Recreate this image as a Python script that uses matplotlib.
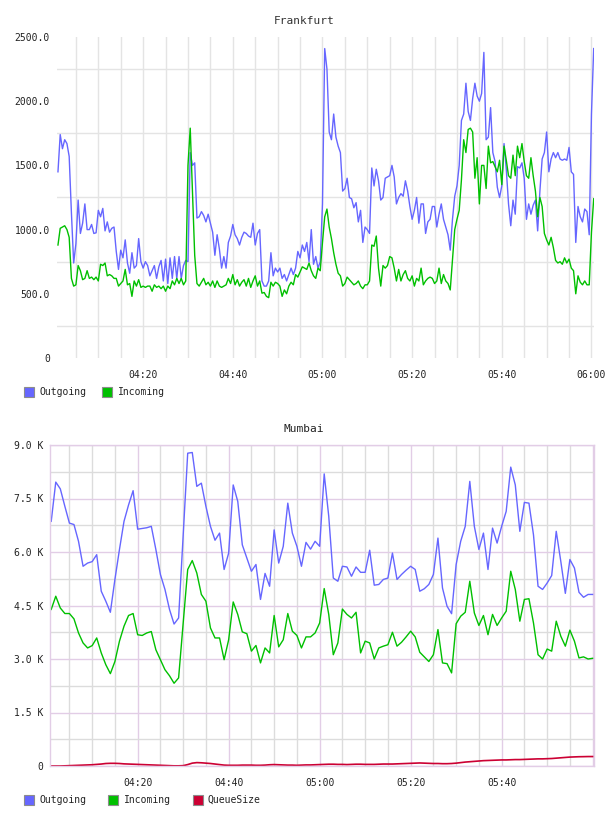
import matplotlib
matplotlib.use("Agg")
import matplotlib.pyplot as plt
import matplotlib.dates as mdates
from matplotlib.patches import Rectangle
from matplotlib.ticker import FuncFormatter
import pandas as pd

# Frankfurt: one sample every 30 s from 04:01:00
frankfurt_outgoing = [
    1450, 1740, 1630, 1700, 1670, 1570, 1130, 740, 890, 1230,
    970, 1050, 1200, 1000, 1000, 1040, 970, 975, 1150, 1100,
    1165, 990, 1060, 980, 1010, 1020, 830, 690, 840, 780,
    920, 740, 660, 820, 700, 720, 930, 750, 700, 750,
    720, 640, 680, 720, 620, 710, 760, 600, 770, 580,
    780, 620, 790, 620, 790, 620, 720, 760, 750, 1600,
    1500, 1520, 1090, 1100, 1140, 1110, 1060, 1120, 1050, 980,
    800, 960, 850, 700, 790, 700, 900, 950, 1040, 960,
    930, 880, 940, 980, 970, 950, 940, 1050, 880, 970,
    1000, 600, 560, 560, 600, 820, 640, 700, 670, 700,
    620, 650, 600, 650, 700, 650, 700, 830, 780, 880,
    830, 900, 750, 1000, 730, 790, 700, 750, 1200, 2410,
    2250, 1760, 1700, 1900, 1720, 1650, 1600, 1300, 1320, 1400,
    1250, 1240, 1170, 1210, 1060, 1150, 900, 1020, 1000, 970,
    1480, 1340, 1470, 1380, 1230, 1250, 1400, 1410, 1420, 1500,
    1410, 1200, 1250, 1280, 1260, 1380, 1300, 1180, 1080, 1150,
    1250, 1050, 1200, 1200, 970, 1060, 1080, 1180, 1180, 1020,
    1120, 1200, 1080, 1020, 960, 840, 1080, 1260, 1340, 1500,
    1850, 1900, 2140, 1920, 1850, 2020, 2140, 2040, 2000, 2060,
    2380, 1700, 1720, 1950, 1600, 1530, 1330, 1250, 1340, 1670,
    1470, 1200, 1030, 1230, 1120, 1490, 1480, 1520, 1400, 1080,
    1200, 1120, 1190, 1230, 990, 1300, 1550, 1600, 1760, 1450,
    1550, 1600, 1560, 1600, 1550, 1540, 1550, 1540, 1640, 1450,
    1430, 900, 1180, 1100, 1060, 1160, 1140, 960, 1900, 2410,
]
frankfurt_incoming = [
    880, 1010, 1020, 1030, 1000, 940, 620, 560, 570, 720,
    680, 610, 620, 680, 620, 630, 610, 630, 600, 730,
    720, 740, 640, 650, 640, 620, 620, 560, 580, 600,
    690, 570, 580, 480, 600, 560, 610, 550, 560, 550,
    560, 560, 520, 570, 550, 560, 540, 560, 520, 560,
    540, 600, 570, 620, 580, 620, 570, 600, 1500, 1790,
    1300, 800, 580, 560, 590, 620, 570, 590, 560, 600,
    550, 600, 560, 550, 560, 570, 620, 580, 650, 570,
    610, 560, 590, 610, 560, 620, 550, 600, 640, 560,
    600, 505, 510, 480, 470, 590, 560, 590, 580, 560,
    480, 530, 500, 560, 590, 570, 650, 630, 670, 710,
    700, 690, 740, 680, 640, 620, 700, 680, 900, 1100,
    1160, 1020, 930, 820, 730, 660, 640, 560, 580, 630,
    610, 590, 570, 580, 600, 560, 540, 570, 570, 600,
    880, 870, 950, 700, 560, 720, 700, 720, 790, 780,
    700, 600, 690, 600, 650, 680, 620, 600, 640, 560,
    620, 600, 700, 570, 600, 620, 630, 620, 580, 600,
    700, 580, 650, 600, 580, 530, 760, 1000, 1080, 1150,
    1390, 1700, 1600, 1780, 1790, 1760, 1400, 1560, 1200, 1500,
    1500, 1320, 1650, 1520, 1530, 1490, 1450, 1540, 1350, 1650,
    1540, 1420, 1400, 1580, 1420, 1650, 1560, 1670, 1530, 1420,
    1400, 1560, 1420, 1300, 1100, 1250, 1180, 970, 920, 880,
    940, 860, 760, 740, 750, 730, 780, 740, 770, 700,
    680, 500, 640, 590, 570, 600, 570, 570, 980, 1240,
]

# Mumbai: one sample per minute from 04:01
mumbai_outgoing = [
    6860, 7960, 7770, 7280, 6810, 6770, 6300, 5600, 5690, 5730,
    5925, 4900, 4620, 4310, 5230, 6070, 6860, 7320, 7720, 6640,
    6660, 6680, 6720, 6070, 5370, 4950, 4390, 3980, 4150, 6460,
    8770, 8790, 7840, 7930, 7280, 6720, 6330, 6530, 5510, 5970,
    7880, 7420, 6200, 5830, 5460, 5650, 4670, 5400, 5040, 6620,
    5690, 6160, 7370, 6530, 6160, 5600, 6270, 6080, 6300, 6160,
    8190, 7000, 5270, 5180, 5600, 5580, 5320, 5580, 5430, 5430,
    6050, 5070, 5090, 5230, 5270, 5970, 5230, 5370, 5490, 5600,
    5510, 4900, 4970, 5090, 5370, 6390, 4990, 4480, 4270, 5650,
    6300, 6720, 7980, 6720, 6070, 6530, 5510, 6670, 6250, 6720,
    7140, 8380, 7880, 6580, 7390, 7370, 6480, 5040, 4950, 5130,
    5340, 6580, 5740, 4840, 5790, 5550, 4870, 4730, 4810, 4810,
]
mumbai_incoming = [
    4390, 4760, 4430, 4275, 4275, 4125, 3730, 3450, 3310, 3375,
    3590, 3170, 2840, 2590, 2930, 3500, 3920, 4220, 4275, 3680,
    3660, 3730, 3770, 3260, 2980, 2700, 2530, 2320, 2470, 4000,
    5510, 5760, 5410, 4810, 4620, 3870, 3590, 3590, 2980, 3540,
    4600, 4250, 3760, 3710, 3220, 3380, 2890, 3310, 3170, 4220,
    3340, 3540, 4275, 3780, 3660, 3310, 3620, 3620, 3730, 4010,
    4975, 4250, 3120, 3450, 4400, 4250, 4150, 4310, 3170, 3500,
    3450, 3000, 3310, 3360, 3400, 3750, 3360, 3470, 3620, 3780,
    3620, 3190, 3060, 2930, 3120, 3825, 2890, 2870, 2610, 3990,
    4200, 4310, 5180, 4290, 3940, 4220, 3680, 4250, 3940, 4150,
    4340, 5460, 4950, 4060, 4670, 4690, 4010, 3120, 3000, 3280,
    3220, 4060, 3640, 3360, 3810, 3500, 3030, 3060, 3000, 3020,
]
mumbai_queue = [
    0, 0, 0, 5, 10, 15, 20, 25, 30, 35,
    45, 55, 70, 75, 75, 70, 60, 55, 50, 45,
    40, 35, 30, 25, 20, 15, 10, 5, 5, 10,
    40, 80, 95, 90, 80, 70, 55, 40, 25, 20,
    20, 20, 25, 25, 25, 20, 20, 25, 35, 40,
    35, 30, 25, 25, 20, 25, 30, 30, 35, 40,
    45, 50, 50, 45, 45, 40, 45, 50, 50, 45,
    45, 45, 50, 55, 55, 55, 60, 65, 70, 75,
    80, 85, 80, 75, 70, 70, 65, 65, 70, 80,
    95, 110, 120, 130, 140, 150, 155, 160, 165, 170,
    170, 175, 180, 180, 185, 190, 195, 200, 200, 205,
    210, 220, 230, 240, 250, 255, 260, 262, 265, 265,
]

frankfurt_ticks = [0, 500, 1000, 1500, 2000, 2500]
mumbai_ticks = [0, 1500, 3000, 4500, 6000, 7500, 9000]

BLUE = "#6666ff"
GREEN = "#00c000"
RED = "#cc0033"
W, H = 608, 816

plt.rcParams["font.family"] = ["DejaVu Sans Mono", "DejaVu Sans"]

day = pd.Timestamp("2024-01-01")
frankfurt_times = pd.date_range(day + pd.Timedelta(hours=4, minutes=1),
                                periods=len(frankfurt_outgoing), freq="30s")
mumbai_times = pd.date_range(day + pd.Timedelta(hours=4, minutes=1),
                             periods=len(mumbai_outgoing), freq="60s")


def fig_rect(left, top, right, bottom):
    return [left / W, 1 - bottom / H, (right - left) / W, (bottom - top) / H]


def fmt_plain(v, pos):
    return "0" if v == 0 else f"{v:.1f}"


def fmt_k(v, pos):
    return "0" if v == 0 else f"{v / 1000:.1f} K"


def fmt_time_no_six(v, pos):
    d = mdates.num2date(v)
    return "" if d.hour == 6 else d.strftime("%H:%M")


def legend(fig, y, items):
    for x_box, x_text, color, label in items:
        fig.add_artist(Rectangle((x_box / W, 1 - (y + 5) / H), 10 / W, 10 / H,
                                 transform=fig.transFigure, facecolor=color,
                                 edgecolor="#8c8c8c", lw=0.8))
        fig.text(x_text / W, 1 - y / H, label, ha="left", va="center",
                 fontsize=7, color="#222222")


fig = plt.figure(figsize=(W / 100, H / 100), dpi=100)

# ---- Frankfurt ----
ax1 = fig.add_axes(fig_rect(57, 37, 594, 358))
ax1.plot(frankfurt_times, frankfurt_outgoing, color=BLUE, lw=1.0)
ax1.plot(frankfurt_times, frankfurt_incoming, color=GREEN, lw=1.0)
ax1.set_ylim(0, 2500)
ax1.set_xlim(day + pd.Timedelta(hours=4, seconds=47),
             day + pd.Timedelta(hours=6, seconds=34))
ax1.set_yticks(frankfurt_ticks)
ax1.set_yticks([250, 750, 1250, 1750, 2250], minor=True)
ax1.yaxis.set_major_formatter(FuncFormatter(fmt_plain))
ax1.xaxis.set_major_locator(mdates.MinuteLocator(byminute=[0, 20, 40]))
ax1.xaxis.set_minor_locator(mdates.MinuteLocator(byminute=range(0, 60, 5)))
ax1.xaxis.set_major_formatter(mdates.DateFormatter("%H:%M"))
ax1.xaxis.grid(True, which="both", color="#e4e4e4", lw=1.0)
ax1.yaxis.grid(True, which="minor", color="#e4e4e4", lw=1.0)
ax1.set_axisbelow(True)
for s in ax1.spines.values():
    s.set_visible(False)
ax1.tick_params(which="both", length=0, labelsize=7, labelcolor="#222222")
ax1.tick_params(axis="x", pad=9)
ax1.tick_params(axis="y", pad=5)
fig.text(0.5, 1 - 20.5 / H, "Frankfurt", ha="center", va="center",
         fontsize=8, color="#333333")
legend(fig, 392, [(24, 39, BLUE, "Outgoing"), (102, 118, GREEN, "Incoming")])

# ---- Mumbai ----
ax2 = fig.add_axes(fig_rect(50, 445, 594, 766))
ax2.plot(mumbai_times, mumbai_outgoing, color=BLUE, lw=1.0)
ax2.plot(mumbai_times, mumbai_incoming, color=GREEN, lw=1.0)
ax2.plot(mumbai_times, mumbai_queue, color=RED, lw=1.2)
ax2.set_ylim(0, 9000)
ax2.set_xlim(day + pd.Timedelta(hours=4, seconds=44),
             day + pd.Timedelta(hours=6, seconds=18))
ax2.set_yticks(mumbai_ticks)
ax2.set_yticks([750, 2250, 3750, 5250, 6750, 8250], minor=True)
ax2.yaxis.set_major_formatter(FuncFormatter(fmt_k))
ax2.xaxis.set_major_locator(mdates.MinuteLocator(byminute=[0, 20, 40]))
ax2.xaxis.set_minor_locator(mdates.MinuteLocator(byminute=range(0, 60, 5)))
ax2.xaxis.set_major_formatter(FuncFormatter(fmt_time_no_six))
ax2.grid(True, which="minor", color="#dcdcdc", lw=1.0)
ax2.grid(True, which="major", color="#e2cde6", lw=1.0)
ax2.set_axisbelow(True)
for s in ax2.spines.values():
    s.set_color("#e2cde6")
    s.set_linewidth(1.0)
ax2.tick_params(which="both", length=0, labelsize=7, labelcolor="#222222")
ax2.tick_params(axis="x", pad=9)
ax2.tick_params(axis="y", pad=5)
fig.text(0.5, 1 - 429 / H, "Mumbai", ha="center", va="center",
         fontsize=8, color="#222222")
legend(fig, 800, [(24, 39, BLUE, "Outgoing"), (108, 124, GREEN, "Incoming"),
                  (193, 207, RED, "QueueSize")])

fig.savefig("out.png", dpi=100)
